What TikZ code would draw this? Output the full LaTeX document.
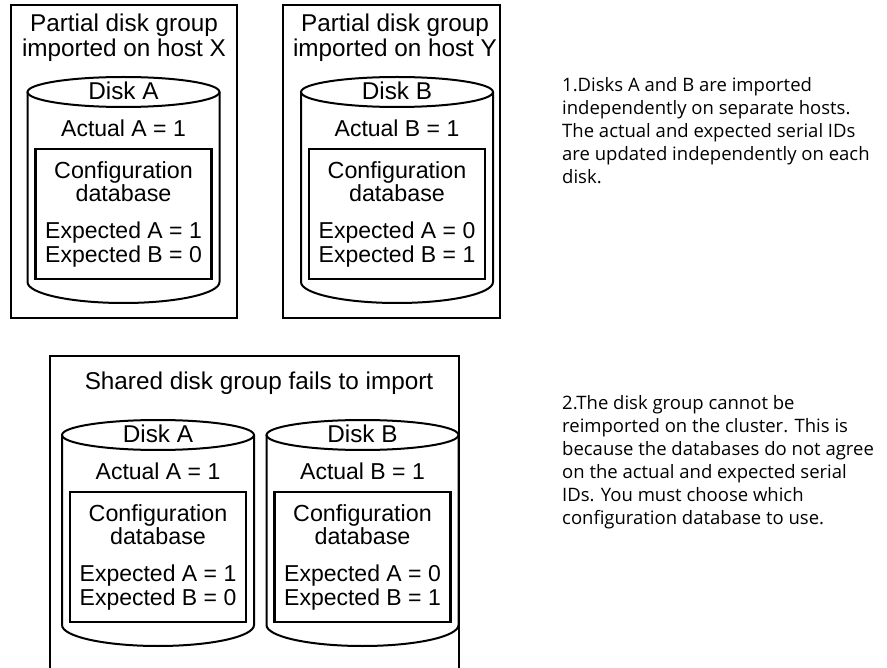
\documentclass[tikz,border=0pt]{standalone}
\usepackage{fontspec}
\setmainfont{Liberation Sans}
\newfontfamily\notefont{Open Sans}
\usetikzlibrary{positioning}
\tikzset{
	groupbox/.style={draw=black, line width=2.6pt},
	disk/.style={draw=black, line width=2pt},
	cfgbox/.style={draw=black, line width=2.6pt, minimum width=176pt, minimum height=130pt, inner sep=0pt},
	lbl/.style={font=\fontsize{23}{24}\selectfont, inner sep=0pt, align=center},
	biglbl/.style={lbl, font=\fontsize{24.3}{25}\selectfont},
	note/.style={font=\notefont\fontsize{18.5}{23}\selectfont, align=left, anchor=north west, inner sep=0pt},
}
\begin{document}
\begin{tikzpicture}[x=1pt, y=-1pt]
	\useasboundingbox (0,0) rectangle (887,668);
	% group frames
	\draw[groupbox] (11,5) rectangle (237,318);
	\draw[groupbox] (283,5) rectangle (500,318);
	\draw[groupbox] (50,675) -- (50,356) -- (459,356) -- (459,675);
	\node[biglbl] (hostX) at (124,37.5) {Partial disk group\\imported on host X};
	\node[biglbl] (hostY) at (395,37.5) {Partial disk group\\imported on host Y};
	\node[biglbl] (shared) at (259,383) {Shared disk group fails to import};
	% disks
	\foreach \cx/\cy/\dk/\ea/\eb/\id in {123.5/92/A/1/0/a, 397/92/B/0/1/b, 158/435/A/1/0/c, 362.5/435/B/0/1/d} {
		\draw[disk] (\cx-96,\cy) -- (\cx-96,\cy+190) arc[start angle=180, end angle=0, x radius=96, y radius=21] -- (\cx+96,\cy);
		\draw[disk] (\cx,\cy) ellipse[x radius=96, y radius=15];
		\node[biglbl] (disk\id) at (\cx,\cy-1) {Disk \dk};
		\node[lbl] (act\id) at (\cx,\cy+36) {Actual \dk{} = 1};
		\node[cfgbox] (cfg\id) at (\cx,\cy+122) {};
		\node[lbl, font=\fontsize{23.3}{23}\selectfont] (db\id) at (\cx,\cy+89.5) {Configuration\\database};
		\node[lbl, font=\fontsize{23}{24}\selectfont] (exp\id) at (\cx,\cy+153) {Expected A = \ea\\Expected B = \eb};
	}
	% notes
	\node[note] (note1) at (562,77) {1.Disks A and B are imported\\independently on separate hosts.\\The actual and expected serial IDs\\are updated independently on each\\disk.};
	\node[note] (note2) at (562,395) {2.The disk group cannot be\\reimported on the cluster. This is\\because the databases do not agree\\on the actual and expected serial\\IDs. You must choose which\\configuration database to use.};
\end{tikzpicture}
\end{document}
